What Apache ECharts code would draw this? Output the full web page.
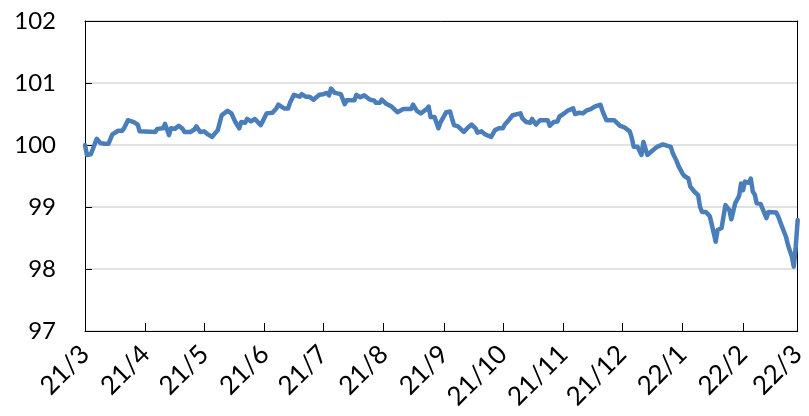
<!DOCTYPE html>
<html>
<head>
<meta charset="utf-8">
<script src="https://cdn.jsdelivr.net/npm/echarts@6/dist/echarts.min.js"></script>
<style>
html,body{margin:0;padding:0;background:#fff;}
#chart{width:809px;height:416px;}
</style>
</head>
<body>
<div id="chart"></div>
<script>
const dates = [
'2021-03-01','2021-03-02','2021-03-04','2021-03-05','2021-03-07','2021-03-09','2021-03-11','2021-03-13','2021-03-14','2021-03-15',
'2021-03-18','2021-03-20','2021-03-21','2021-03-23','2021-03-24','2021-03-26','2021-03-28','2021-03-29','2021-03-30',
'2021-04-06','2021-04-07','2021-04-10','2021-04-11','2021-04-13','2021-04-14','2021-04-16','2021-04-18','2021-04-20','2021-04-21',
'2021-04-24','2021-04-26','2021-04-27','2021-04-29',
'2021-05-01','2021-05-03','2021-05-05','2021-05-06','2021-05-08','2021-05-10','2021-05-13','2021-05-15','2021-05-17','2021-05-19',
'2021-05-20','2021-05-22','2021-05-23','2021-05-25','2021-05-27','2021-05-28','2021-05-30','2021-05-31',
'2021-06-02','2021-06-03','2021-06-05','2021-06-07','2021-06-08','2021-06-11','2021-06-13','2021-06-14','2021-06-16','2021-06-17',
'2021-06-19','2021-06-20','2021-06-22','2021-06-24','2021-06-26','2021-06-29',
'2021-07-01','2021-07-03','2021-07-04','2021-07-05','2021-07-07','2021-07-08','2021-07-10','2021-07-12','2021-07-13','2021-07-15',
'2021-07-17','2021-07-18','2021-07-20','2021-07-22','2021-07-23','2021-07-25','2021-07-27','2021-07-28','2021-07-30','2021-07-31',
'2021-08-02','2021-08-03','2021-08-05','2021-08-06','2021-08-08','2021-08-09','2021-08-11','2021-08-12','2021-08-15','2021-08-16',
'2021-08-18','2021-08-20','2021-08-21','2021-08-23','2021-08-24','2021-08-25','2021-08-27','2021-08-29','2021-08-30','2021-08-31',
'2021-09-02','2021-09-04','2021-09-05','2021-09-06','2021-09-08','2021-09-09','2021-09-11','2021-09-13','2021-09-15','2021-09-16',
'2021-09-17','2021-09-18','2021-09-20','2021-09-22','2021-09-23','2021-09-25','2021-09-26','2021-09-27','2021-09-29',
'2021-10-01','2021-10-02','2021-10-04','2021-10-06','2021-10-07','2021-10-10','2021-10-11','2021-10-13','2021-10-15','2021-10-16',
'2021-10-18','2021-10-20','2021-10-21','2021-10-24','2021-10-25','2021-10-27','2021-10-29','2021-10-30',
'2021-11-01','2021-11-03','2021-11-04','2021-11-06','2021-11-07','2021-11-09','2021-11-11','2021-11-13','2021-11-15','2021-11-17',
'2021-11-18','2021-11-20','2021-11-21','2021-11-23','2021-11-25','2021-11-27','2021-11-28','2021-11-30',
'2021-12-02','2021-12-03','2021-12-05','2021-12-06','2021-12-07','2021-12-09','2021-12-10','2021-12-11','2021-12-12','2021-12-14',
'2021-12-15','2021-12-17','2021-12-19','2021-12-22','2021-12-24','2021-12-26','2021-12-27','2021-12-29','2021-12-30',
'2022-01-01','2022-01-02','2022-01-03','2022-01-04','2022-01-05','2022-01-06','2022-01-07','2022-01-09','2022-01-10','2022-01-11',
'2022-01-13','2022-01-14','2022-01-15','2022-01-16','2022-01-17','2022-01-18','2022-01-19','2022-01-21','2022-01-23','2022-01-24',
'2022-01-25','2022-01-26','2022-01-27','2022-01-28','2022-01-30','2022-01-31',
'2022-02-01','2022-02-02','2022-02-04','2022-02-05','2022-02-06','2022-02-07','2022-02-08','2022-02-10','2022-02-11','2022-02-13',
'2022-02-14','2022-02-15','2022-02-18','2022-02-19','2022-02-21','2022-02-23','2022-02-24','2022-02-26','2022-02-27','2022-02-28',
'2022-03-01'
];
const values = [
100.00,99.84,99.85,99.86,100.10,100.03,100.02,100.02,100.00,100.17,
100.23,100.23,100.27,100.40,100.40,100.37,100.33,100.22,100.21,
100.21,100.26,100.27,100.34,100.16,100.27,100.26,100.31,100.26,100.21,
100.21,100.25,100.30,100.21,
100.22,100.17,100.13,100.13,100.24,100.48,100.55,100.51,100.37,100.27,
100.37,100.36,100.42,100.38,100.42,100.40,100.32,100.32,
100.51,100.54,100.52,100.59,100.65,100.59,100.59,100.68,100.81,100.78,
100.78,100.82,100.78,100.78,100.73,100.81,
100.82,100.84,100.80,100.91,100.84,100.82,100.82,100.66,100.72,100.72,
100.72,100.81,100.77,100.80,100.80,100.73,100.72,100.68,100.68,100.73,
100.67,100.67,100.62,100.61,100.53,100.55,100.58,100.58,100.58,100.65,
100.55,100.51,100.51,100.58,100.62,100.45,100.45,100.27,100.36,100.37,
100.53,100.54,100.42,100.32,100.30,100.27,100.21,100.28,100.33,100.32,
100.27,100.20,100.22,100.17,100.16,100.13,100.12,100.24,100.27,
100.27,100.33,100.40,100.48,100.51,100.51,100.43,100.37,100.36,100.42,
100.33,100.40,100.40,100.40,100.31,100.37,100.38,100.46,
100.50,100.55,100.55,100.59,100.50,100.52,100.51,100.56,100.58,100.62,
100.61,100.65,100.55,100.40,100.40,100.40,100.43,100.31,
100.29,100.29,100.22,100.12,99.97,99.97,99.95,99.84,100.05,99.84,
99.86,99.92,99.97,100.01,99.99,99.97,99.87,99.74,99.66,
99.54,99.50,99.53,99.46,99.33,99.30,99.25,99.19,99.00,98.92,
98.92,98.91,98.85,98.72,98.58,98.44,98.63,98.66,99.03,99.06,
98.95,98.80,98.80,99.06,99.18,99.38,
99.27,99.41,99.39,99.46,99.25,99.20,99.06,99.05,99.02,98.82,
98.92,98.91,98.91,98.85,98.68,98.52,98.39,98.20,98.04,98.36,
98.79
];
const tickLabels = ['21/3','21/4','21/5','21/6','21/7','21/8','21/9','21/10','21/11','21/12','22/1','22/2','22/3'];
const axisStart = '2021-03-01';
const axisEnd = '2022-03-01';
const yMin = 97, yMax = 102, yStep = 1;

// Build daily category axis and map month starts to tick labels
function fmt(d){
  const m = d.getUTCMonth()+1, day = d.getUTCDate();
  return d.getUTCFullYear()+'-'+(m<10?'0':'')+m+'-'+(day<10?'0':'')+day;
}
const categories = [];
{
  const s = new Date(axisStart+'T00:00:00Z'), e = new Date(axisEnd+'T00:00:00Z');
  for (let t = s.getTime(); t <= e.getTime(); t += 86400000) categories.push(fmt(new Date(t)));
}
const labelOf = {};
let li = 0;
categories.forEach(c => { if (c.endsWith('-01')) labelOf[c] = tickLabels[li++]; });
const lookup = {};
dates.forEach((d,i) => lookup[d] = values[i]);
const seriesData = categories.map(c => (c in lookup ? lookup[c] : null));

const FONT = 'Lato';
const chart = echarts.init(document.getElementById('chart'), null, {renderer:'canvas'});
chart.setOption({
  animation:false,
  backgroundColor:'#fff',
  grid:{left:85, right:7, top:21, bottom:85, containLabel:false},
  xAxis:[{
    type:'category',
    data:categories,
    boundaryGap:false,
    axisLine:{show:true, lineStyle:{color:'#000', width:1}},
    axisTick:{show:true, inside:true, length:8, lineStyle:{color:'#000'},
      interval:(i,v)=> v in labelOf},
    axisLabel:{show:true, rotate:45, margin:19, color:'#000', fontSize:26, fontFamily:FONT,
      interval:(i,v)=> v in labelOf,
      formatter:(v)=> labelOf[v] || ''},
    splitLine:{show:false}
  },{
    type:'category',
    position:'top',
    data:categories,
    boundaryGap:false,
    axisLine:{show:true, lineStyle:{color:'#000', width:1}},
    axisTick:{show:false}, axisLabel:{show:false}, splitLine:{show:false}
  }],
  yAxis:[{
    type:'value',
    min:yMin, max:yMax, interval:yStep,
    axisLine:{show:true, lineStyle:{color:'#000', width:1}},
    axisTick:{show:true, inside:true, length:7, lineStyle:{color:'#000'}},
    axisLabel:{color:'#000', fontSize:24, fontFamily:FONT, margin:29},
    splitLine:{show:true, lineStyle:{color:'#d9d9d9', width:1.5}}
  },{
    type:'value',
    position:'right',
    min:yMin, max:yMax, interval:yStep,
    axisLine:{show:true, lineStyle:{color:'#000', width:1}},
    axisTick:{show:false}, axisLabel:{show:false}, splitLine:{show:false}
  }],
  series:[{
    type:'line',
    data:seriesData,
    connectNulls:true,
    showSymbol:false,
    symbol:'none',
    smooth:false,
    lineStyle:{color:'#4a7ebb', width:4.5, join:'round', cap:'round'},
    z:3
  }]
});
</script>
</body>
</html>
